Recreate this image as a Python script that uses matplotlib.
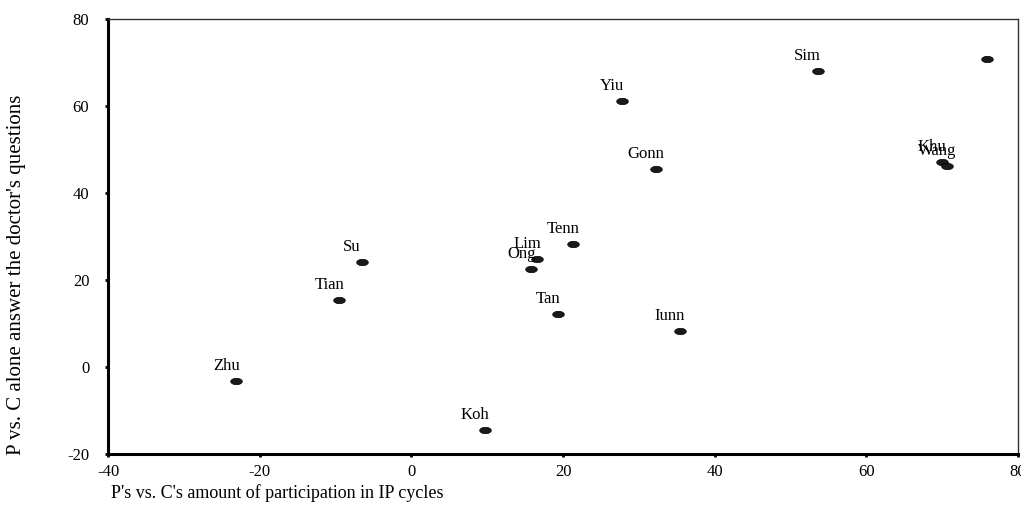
import numpy as np
import matplotlib
matplotlib.use("Agg")
import matplotlib.pyplot as plt
from matplotlib.path import Path

names = ["Zhu", "Koh", "Tian", "Su", "Ong", "Lim", "Tenn", "Tan", "Iunn",
         "Gonn", "Yiu", "Sim", "Khu", "Wang", ""]
px = [-23.1, 9.7, -9.5, -6.5, 15.8, 16.6, 21.3, 19.3, 35.4,
      32.3, 27.8, 53.6, 70.0, 70.6, 75.9]
py = [-3.2, -14.5, 15.4, 24.1, 22.5, 24.8, 28.3, 12.2, 8.3,
      45.5, 61.1, 68.0, 47.1, 46.2, 70.8]
xticks = [-40, -20, 0, 20, 40, 60, 80]
yticks = [-20, 0, 20, 40, 60, 80]

plt.rcParams['font.family'] = ['Liberation Serif', 'DejaVu Serif']
plt.rcParams['axes.unicode_minus'] = False

# flat ellipse marker like the original
t = np.linspace(0, 2 * np.pi, 41)
ell = Path(np.column_stack([np.cos(t), 0.55 * np.sin(t)]), closed=True)

fig = plt.figure(figsize=(10.21, 5.31), dpi=100)
ax = fig.add_axes([108 / 1021, 1 - 454 / 531, 910 / 1021, 435 / 531])

ax.scatter(px, py, marker=ell, s=70, facecolor="#1a1a1a", edgecolor="black",
           linewidths=0.5, zorder=3)
for n, x, y in zip(names, px, py):
    if n:
        ax.annotate(n, (x, y), xytext=(-7.2, 11), textcoords="offset points",
                    ha="center", va="center", fontsize=12)

ax.set_xlim(-40, 80)
ax.set_ylim(-20, 80)
ax.set_xticks(xticks)
ax.set_yticks(yticks)
ax.tick_params(axis="both", length=2.5, width=2, labelsize=12)
ax.tick_params(axis="y", pad=11)
ax.tick_params(axis="x", pad=5)
for s in ["left", "bottom"]:
    ax.spines[s].set_linewidth(2.2)
for s in ["top", "right"]:
    ax.spines[s].set_linewidth(1.0)
    ax.spines[s].set_color("#333333")

fig.text(17 / 1021, 1 - 275 / 531, "P vs. C alone answer the doctor's questions",
         fontsize=15, rotation=90, ha="center", va="center")
fig.text(111 / 1021, 1 - 493 / 531, "P's vs. C's amount of participation in IP cycles",
         fontsize=13, ha="left", va="center")

fig.savefig("out.png", dpi=100)
